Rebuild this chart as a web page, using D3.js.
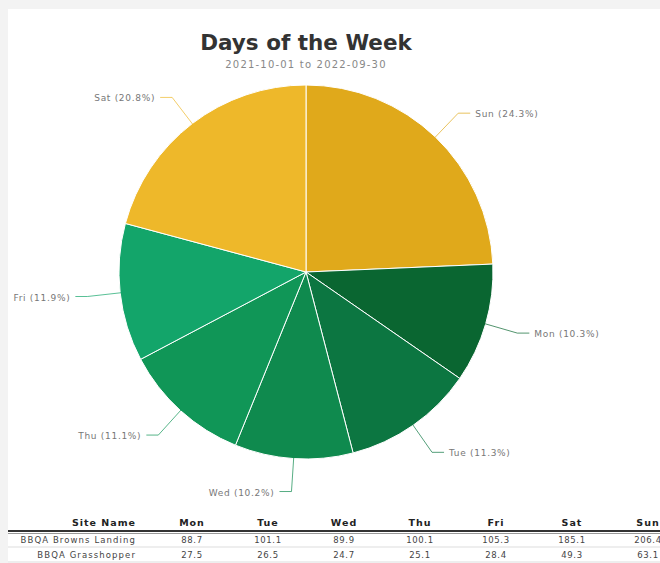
<!DOCTYPE html>
<html>
<head>
<meta charset="utf-8">
<script src="https://cdn.jsdelivr.net/npm/d3@7"></script>
<style>
  body { margin: 0; background: #f3f3f3; }
  svg { display: block; font-family: "DejaVu Sans", Verdana, sans-serif; }
</style>
</head>
<body>
<svg id="chart" width="660" height="563"></svg>
<script>
// pie data (percent of visits by weekday)
const days = ['Sun', 'Mon', 'Tue', 'Wed', 'Thu', 'Fri', 'Sat']
const shares = [24.3, 10.3, 11.3, 10.2, 11.1, 11.9, 20.8]
const colors = ['#e0a91b', '#0a6631', '#0c7641', '#0f8a4e', '#109657', '#13a56a', '#eeb82a']

// table below the pie
const tableCols = ['Mon', 'Tue', 'Wed', 'Thu', 'Fri', 'Sat', 'Sun']
const siteNames = ['BBQA Browns Landing', 'BBQA Grasshopper']
const siteValues = [
  [88.7, 101.1, 89.9, 100.1, 105.3, 185.1, 206.4],
  [27.5, 26.5, 24.7, 25.1, 28.4, 49.3, 63.1]
]

const svg = d3.select('#chart')
const W = 660, H = 563

svg.append('rect')
  .attr('x', 8).attr('y', 9)
  .attr('width', W - 8).attr('height', H - 9)
  .attr('fill', '#fff')

svg.append('text')
  .attr('x', 306).attr('y', 50)
  .attr('text-anchor', 'middle')
  .attr('font-size', 21.5).attr('font-weight', 'bold')
  .attr('fill', '#333')
  .text('Days of the Week')

svg.append('text')
  .attr('x', 306).attr('y', 68)
  .attr('text-anchor', 'middle')
  .attr('font-size', 10).attr('letter-spacing', 1.2).attr('fill', '#888')
  .text('2021-10-01 to 2022-09-30')

// pie
const cx = 306, cy = 272, r = 187
const pieG = svg.append('g').attr('transform', `translate(${cx},${cy})`)
const pie = d3.pie().sort(null).value(d => d)
const arcs = pie(shares)
const arc = d3.arc().innerRadius(0).outerRadius(r)

pieG.selectAll('path.slice')
  .data(arcs)
  .enter()
  .append('path')
  .attr('class', 'slice')
  .attr('d', arc)
  .attr('fill', (d, i) => colors[i])
  .attr('stroke', '#fff')
  .attr('stroke-width', 1)

// labels with connector lines
const pt = (a, rad) => [Math.sin(a) * rad, -Math.cos(a) * rad]
arcs.forEach((d, i) => {
  const mid = (d.startAngle + d.endAngle) / 2
  const p0 = pt(mid, r - 2)
  const p1 = pt(mid, r + 33)
  const right = Math.sin(mid) >= 0
  const p2 = [p1[0] + (right ? 12 : -12), p1[1]]
  pieG.append('path')
    .attr('d', `M${p0[0]},${p0[1]}L${p1[0]},${p1[1]}L${p2[0]},${p2[1]}`)
    .attr('fill', 'none')
    .attr('stroke', colors[i])
    .attr('stroke-opacity', 0.7)
    .attr('stroke-width', 1)
  pieG.append('text')
    .attr('x', p2[0] + (right ? 5 : -5))
    .attr('y', p2[1] + 4)
    .attr('text-anchor', right ? 'start' : 'end')
    .attr('font-size', 9)
    .attr('letter-spacing', 0.7)
    .attr('fill', '#777')
    .text(`${days[i]} (${shares[i].toFixed(1)}%)`)
})

// table
const colX = d3.scaleBand().domain(tableCols).range([154, 686])
const tbl = svg.append('g')
tbl.append('text')
  .attr('x', 136).attr('y', 526)
  .attr('text-anchor', 'end')
  .attr('font-size', 9.5).attr('letter-spacing', 1).attr('font-weight', 'bold').attr('fill', '#222')
  .text('Site Name')
tbl.selectAll('text.hdr')
  .data(tableCols)
  .enter()
  .append('text')
  .attr('class', 'hdr')
  .attr('x', d => colX(d) + colX.bandwidth() / 2)
  .attr('y', 526)
  .attr('text-anchor', 'middle')
  .attr('font-size', 9.5).attr('letter-spacing', 1).attr('font-weight', 'bold').attr('fill', '#222')
  .text(d => d)

tbl.append('rect').attr('x', 8).attr('y', 530).attr('width', W).attr('height', 2).attr('fill', '#333')
tbl.append('rect').attr('x', 8).attr('y', 533).attr('width', W).attr('height', 1).attr('fill', '#999')

siteNames.forEach((name, j) => {
  const y = 543 + j * 15
  tbl.append('line')
    .attr('x1', 8).attr('x2', W)
    .attr('y1', y + 4).attr('y2', y + 4)
    .attr('stroke', '#ddd')
  tbl.append('text')
    .attr('x', 136).attr('y', y)
    .attr('text-anchor', 'end')
    .attr('font-size', 8.5).attr('letter-spacing', 1.1).attr('fill', '#444')
    .text(name)
  tbl.selectAll(null)
    .data(siteValues[j])
    .enter()
    .append('text')
    .attr('x', (d, k) => colX(tableCols[k]) + colX.bandwidth() / 2)
    .attr('y', y)
    .attr('text-anchor', 'middle')
    .attr('font-size', 8.5).attr('letter-spacing', 0.6).attr('fill', '#444')
    .text(d => d.toFixed(1))
})
</script>
</body>
</html>
